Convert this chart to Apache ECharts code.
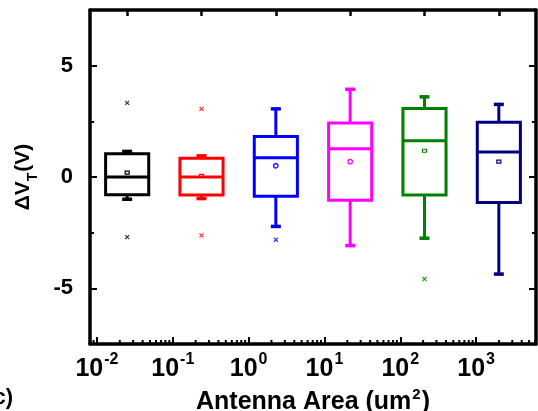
<!DOCTYPE html>
<html>
<head>
<meta charset="utf-8">
<script src="https://cdn.jsdelivr.net/npm/echarts/dist/echarts.min.js"></script>
<style>
html,body{margin:0;padding:0;background:#fff;}
#main{width:538px;height:411px;}
</style>
</head>
<body>
<div id="main"></div>
<script>
// ---- data ----
const areas = ['0.025', '0.25', '2.5', '25', '250', '2500'];   // antenna area groups (um^2)
const colors = ['#000000', '#ff0000', '#0000ff', '#ff00ff', '#008000', '#000080'];
const whiskerLow  = [-1.0, -0.97, -2.22, -3.08, -2.75, -4.36];
const q1          = [-0.80, -0.81, -0.86, -1.04, -0.81, -1.15];
const median      = [0.0, 0.0, 0.87, 1.27, 1.63, 1.12];
const q3          = [1.04, 0.84, 1.82, 2.43, 3.08, 2.46];
const whiskerHigh = [1.15, 0.95, 3.06, 3.94, 3.60, 3.26];
const means       = [0.20, 0.05, 0.50, 0.69, 1.18, 0.69];
const meanShape   = ['rect', 'rect', 'circle', 'circle', 'rect', 'rect'];
const outlierHigh = [3.33, 3.06, null, null, null, null];
const outlierLow  = [-2.70, -2.62, -2.82, null, -4.58, null];
const yTicks = [-5, 0, 5];
const xLogMin = -2.092, xLogMax = 3.79;
const minorMultipliers = [2, 3, 4, 5, 6, 7, 8, 9];
const minorDecades = [-3, -2, -1, 0, 1, 2, 3];

const FONT = "'Liberation Sans', Arial, sans-serif";

// axis decoration: log minor tick positions
const minorTicks = [];
minorDecades.forEach(d => minorMultipliers.forEach(m => {
  const v = m * Math.pow(10, d);
  if (v > Math.pow(10, xLogMin) && v < Math.pow(10, xLogMax)) minorTicks.push([v, 0]);
}));

const boxData = areas.map((a, i) => [i, whiskerLow[i], q1[i], median[i], q3[i], whiskerHigh[i], means[i]]);
const outlierData = [];
areas.forEach((a, i) => {
  [outlierHigh[i], outlierLow[i]].forEach(v => {
    if (v != null) outlierData.push({ value: [i, v], itemStyle: { borderColor: colors[i], color: 'none' } });
  });
});

const chart = echarts.init(document.getElementById('main'), null, { renderer: 'canvas' });

const yBase = {
  type: 'value', min: -7.5, max: 7.5,
  splitLine: { show: false },
  axisLine: { show: true, onZero: false, lineStyle: { color: '#000', width: 3.5 } },
  axisTick: { show: true, inside: true, length: 7, lineStyle: { color: '#000', width: 2 } },
};

const option = {
  animation: false,
  backgroundColor: '#fff',
  textStyle: { fontFamily: FONT },
  grid: { left: 90, right: 2, top: 10, bottom: 67, containLabel: false, outerBoundsMode: 'none' },
  xAxis: [
    {
      type: 'log', logBase: 10, position: 'bottom',
      min: Math.pow(10, xLogMin), max: Math.pow(10, xLogMax),
      splitNumber: 6,
      splitLine: { show: false },
      axisLine: { show: true, onZero: false, lineStyle: { color: '#000', width: 3.5 } },
      axisTick: { show: true, inside: true, length: 7, lineStyle: { color: '#000', width: 2 } },
      axisLabel: {
        show: true, margin: 8, showMinLabel: false, showMaxLabel: false,
        formatter: v => '{b|10}{s|' + Math.round(Math.log10(v)) + '}',
        rich: {
          b: { fontSize: 25, fontWeight: 'bold', fontFamily: FONT, color: '#000', verticalAlign: 'bottom' },
          s: { fontSize: 16, fontWeight: 'bold', fontFamily: FONT, color: '#000', verticalAlign: 'bottom', padding: [0, 0, 14, 1] }
        }
      },
      name: '{t|Antenna Area (um}{s|2}{t|)}',
      nameLocation: 'middle', nameGap: 38,
      nameTextStyle: {
        rich: {
          t: { fontSize: 25, fontWeight: 'bold', fontFamily: FONT, color: '#000', verticalAlign: 'bottom' },
          s: { fontSize: 15, fontWeight: 'bold', fontFamily: FONT, color: '#000', verticalAlign: 'bottom', padding: [0, 1, 13, 1] }
        }
      }
    },
    {
      type: 'category', position: 'top', data: areas, boundaryGap: true,
      splitLine: { show: false },
      axisLine: { show: true, onZero: false, lineStyle: { color: '#000', width: 3.5 } },
      axisTick: { show: true, inside: true, alignWithLabel: true, interval: 0, length: 6, lineStyle: { color: '#000', width: 2.5 } },
      axisLabel: { show: false }
    }
  ],
  yAxis: [
    Object.assign({}, yBase, {
      position: 'left', splitNumber: 3,
      axisLabel: {
        show: true, margin: 17, showMinLabel: false, showMaxLabel: false,
        fontSize: 22, fontWeight: 'bold', fontFamily: FONT, color: '#000',
        formatter: v => (yTicks.indexOf(v) >= 0 ? String(v) : '')
      },
      name: '{a|ΔV}{s|T}{a|(V)}',
      nameLocation: 'middle', nameRotate: 90, nameGap: 50,
      nameTextStyle: {
        rich: {
          a: { fontSize: 21, fontWeight: 'bold', fontFamily: FONT, color: '#000', verticalAlign: 'top', padding: [0, 0, 0, 0] },
          s: { fontSize: 14, fontWeight: 'bold', fontFamily: FONT, color: '#000', verticalAlign: 'top', padding: [13, 1, 0, 0] }
        }
      }
    }),
    Object.assign({}, yBase, {
      position: 'left', interval: 2.5,
      axisLine: { show: false },
      axisTick: { show: true, inside: true, length: 4, lineStyle: { color: '#000', width: 2 } },
      axisLabel: { show: false }
    }),
    Object.assign({}, yBase, {
      position: 'right', splitNumber: 3,
      axisLabel: { show: false }
    }),
    Object.assign({}, yBase, {
      position: 'right', interval: 2.5,
      axisLine: { show: false },
      axisTick: { show: true, inside: true, length: 4, lineStyle: { color: '#000', width: 2 } },
      axisLabel: { show: false }
    })
  ],
  graphic: [
    {
      type: 'text', right: 538 - 13, bottom: 2,
      style: { text: '(c)', font: "bold 22px 'Liberation Sans', Arial, sans-serif", fill: '#000' }
    }
  ],
  series: [
    {
      type: 'custom', name: 'box', xAxisIndex: 1, yAxisIndex: 0,
      data: boxData,
      encode: { x: 0, y: [1, 2, 3, 4, 5, 6] },
      silent: true,
      renderItem: (params, api) => {
        const i = api.value(0);
        const col = colors[params.dataIndex];
        const x = api.coord([i, 0])[0];
        const yv = k => api.coord([i, api.value(k)])[1];
        const yLo = yv(1), yQ1 = yv(2), yMed = yv(3), yQ3 = yv(4), yHi = yv(5), yMean = yv(6);
        const bw = api.size([1, 0])[0] * 0.58;
        const capW = 10;
        const ls = { stroke: col, lineWidth: 3, fill: 'none' };
        const children = [
          { type: 'line', shape: { x1: x, y1: yQ3, x2: x, y2: yHi }, style: ls },
          { type: 'line', shape: { x1: x, y1: yQ1, x2: x, y2: yLo }, style: ls },
          { type: 'line', shape: { x1: x - capW / 2, y1: yHi, x2: x + capW / 2, y2: yHi }, style: { stroke: col, lineWidth: 3.5 } },
          { type: 'line', shape: { x1: x - capW / 2, y1: yLo, x2: x + capW / 2, y2: yLo }, style: { stroke: col, lineWidth: 3.5 } },
          { type: 'rect', shape: { x: x - bw / 2, y: yQ3, width: bw, height: yQ1 - yQ3 }, style: { stroke: col, lineWidth: 3, fill: 'none' } },
          { type: 'line', shape: { x1: x - bw / 2, y1: yMed, x2: x + bw / 2, y2: yMed }, style: ls }
        ];
        if (meanShape[params.dataIndex] === 'circle') {
          children.push({ type: 'circle', shape: { cx: x, cy: yMean, r: 2.2 }, style: { stroke: col, lineWidth: 1.2, fill: 'none' } });
        } else {
          children.push({ type: 'rect', shape: { x: x - 2, y: yMean - 1.5, width: 4, height: 3 }, style: { stroke: col, lineWidth: 1.2, fill: 'none' } });
        }
        return { type: 'group', children };
      }
    },
    {
      type: 'scatter', name: 'outliers', xAxisIndex: 1, yAxisIndex: 0,
      data: outlierData,
      symbol: 'path://M0,0L10,10M10,0L0,10',
      symbolSize: 4,
      itemStyle: { borderWidth: 1.2, color: 'none' },
      silent: true
    },
    {
      type: 'custom', name: 'minorTicks', xAxisIndex: 0, yAxisIndex: 0,
      data: minorTicks, silent: true,
      encode: { x: 0, y: 1 },
      renderItem: (params, api) => {
        const x = api.coord([api.value(0), 0])[0];
        const yb = params.coordSys.y + params.coordSys.height;
        return { type: 'line', shape: { x1: x, y1: yb, x2: x, y2: yb - 4 }, style: { stroke: '#000', lineWidth: 2 } };
      }
    }
  ]
};
chart.setOption(option);
</script>
</body>
</html>
